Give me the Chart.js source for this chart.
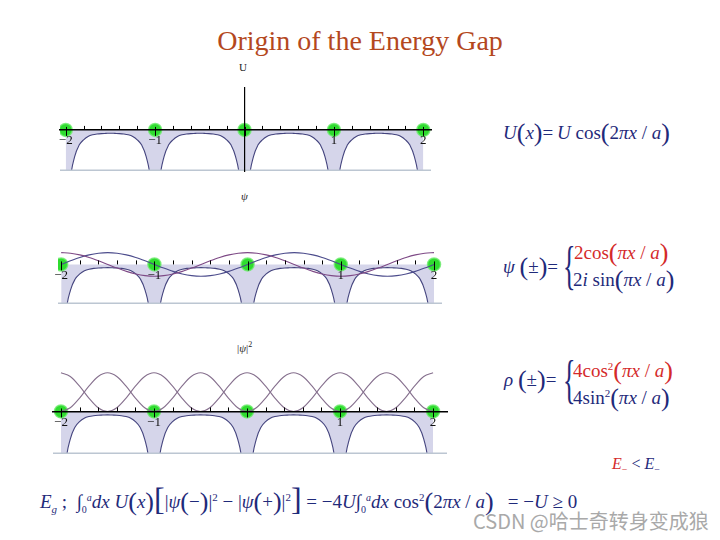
<!DOCTYPE html>
<html><head><meta charset="utf-8">
<script src="https://cdn.jsdelivr.net/npm/chart.js@4.4.1/dist/chart.umd.min.js"></script>
<style>
body{margin:0;width:720px;height:540px;background:#fff;position:relative;overflow:hidden;font-family:'Liberation Serif','Times New Roman',serif;}
.abs{position:absolute;white-space:nowrap;}
canvas{position:absolute;}
.f{color:#1f2a7a;font-size:19px;line-height:24px;}
.f i{font-style:italic;}
.bp{font-size:26px;vertical-align:-2px;font-style:normal;}
.red{color:#d42a2a;}
.brace{font-size:52px;line-height:52px;transform:scaleX(0.5);transform-origin:left top;color:#1f2a7a;font-weight:100;}
.lab{font-size:11px;color:#222;}
</style></head><body>
<div class="abs" style="left:0;width:720px;top:27px;text-align:center;font-size:28px;line-height:28px;color:#b4481e;">Origin of the Energy Gap</div>

<div class="abs lab" style="left:239px;top:61px;">U</div>
<div class="abs lab" style="left:241px;top:190px;font-style:italic;">ψ</div>
<div class="abs lab" style="left:237px;top:340px;">|<i>ψ</i>|<sup style="font-size:8px;">2</sup></div>

<canvas id="c1" width="387" height="99" style="left:52px;top:80px;"></canvas>
<canvas id="c2" width="400" height="74" style="left:50px;top:238px;"></canvas>
<canvas id="c3" width="410" height="104" style="left:45px;top:358px;"></canvas>

<div class="abs f" style="left:503px;top:121px;"><i>U</i><span class="bp">(</span><i>x</i><span class="bp">)</span>=&thinsp;<i>U</i> cos<span class="bp">(</span>2<i>πx</i> / <i>a</i><span class="bp">)</span></div>

<div class="abs f" style="left:503px;top:255px;"><i>ψ</i> <span class="bp">(</span>±<span class="bp">)</span>=</div>
<div class="abs brace" style="left:563px;top:240px;">{</div>
<div class="abs f red" style="left:574px;top:241px;">2cos<span class="bp">(</span><i>πx</i> / <i>a</i><span class="bp">)</span></div>
<div class="abs f" style="left:573px;top:268px;">2<i>i</i> sin<span class="bp">(</span><i>πx</i> / <i>a</i><span class="bp">)</span></div>

<div class="abs f" style="left:504px;top:368px;"><i>ρ</i> <span class="bp">(</span>±<span class="bp">)</span>=</div>
<div class="abs brace" style="left:563px;top:354px;">{</div>
<div class="abs f red" style="left:573px;top:354px;">4cos<sup style="font-size:11px;">2</sup><span class="bp">(</span><i>πx</i> / <i>a</i><span class="bp">)</span></div>
<div class="abs f" style="left:573px;top:381px;">4sin<sup style="font-size:11px;">2</sup><span class="bp">(</span><i>πx</i> / <i>a</i><span class="bp">)</span></div>

<div class="abs f" style="left:612px;top:452px;font-size:16px;"><i class="red">E</i><sub style="font-size:10px;" class="red">−</sub> &lt; <i>E</i><sub style="font-size:10px;">−</sub></div>

<div class="abs f" style="left:40px;top:485px;font-size:19px;"><i>E</i><sub style="font-size:11px;"><i>g</i></sub> ;&nbsp; ∫<sub style="font-size:10px;">0</sub><sup style="font-size:10px;"><i>a</i></sup><i>dx U</i><span class="bp">(</span><i>x</i><span class="bp">)</span><span class="bp" style="font-size:32px;">[</span>|<i>ψ</i><span class="bp">(</span>−<span class="bp">)</span>|<sup style="font-size:11px;">2</sup> − |<i>ψ</i><span class="bp">(</span>+<span class="bp">)</span>|<sup style="font-size:11px;">2</sup><span class="bp" style="font-size:32px;">]</span> = −4<i>U</i>∫<sub style="font-size:10px;">0</sub><sup style="font-size:10px;"><i>a</i></sup><i>dx</i> cos<sup style="font-size:11px;">2</sup><span class="bp">(</span>2<i>πx</i> / <i>a</i><span class="bp">)</span> &nbsp;&nbsp;= −<i>U</i> ≥ 0</div>

<div class="abs" style="left:473px;top:508px;font-family:'Noto Sans CJK SC','Noto Sans',sans-serif;font-size:20px;line-height:26px;color:#a9a9a9;">CSDN @哈士奇转身变成狼</div>

<script>
// ---- data ----
const xPot = [-2,-1.95,-1.9,-1.85,-1.8,-1.75,-1.7,-1.65,-1.6,-1.55,-1.5,-1.45,-1.4,-1.35,-1.3,-1.25,-1.2,-1.15,-1.1,-1.05,
  -1,-0.95,-0.9,-0.85,-0.8,-0.75,-0.7,-0.65,-0.6,-0.55,-0.5,-0.45,-0.4,-0.35,-0.3,-0.25,-0.2,-0.15,-0.1,-0.05,
  0,0.05,0.1,0.15,0.2,0.25,0.3,0.35,0.4,0.45,0.5,0.55,0.6,0.65,0.7,0.75,0.8,0.85,0.9,0.95,
  1,1.05,1.1,1.15,1.2,1.25,1.3,1.35,1.4,1.45,1.5,1.55,1.6,1.65,1.7,1.75,1.8,1.85,1.9,1.95,2];
const uPot = [-3,-1.25,-0.65,-0.37,-0.24,-0.16,-0.12,-0.1,-0.09,-0.085,-0.08,-0.085,-0.09,-0.1,-0.12,-0.16,-0.24,-0.37,-0.65,-1.25,
  -3,-1.25,-0.65,-0.37,-0.24,-0.16,-0.12,-0.1,-0.09,-0.085,-0.08,-0.085,-0.09,-0.1,-0.12,-0.16,-0.24,-0.37,-0.65,-1.25,
  -3,-1.25,-0.65,-0.37,-0.24,-0.16,-0.12,-0.1,-0.09,-0.085,-0.08,-0.085,-0.09,-0.1,-0.12,-0.16,-0.24,-0.37,-0.65,-1.25,
  -3,-1.25,-0.65,-0.37,-0.24,-0.16,-0.12,-0.1,-0.09,-0.085,-0.08,-0.085,-0.09,-0.1,-0.12,-0.16,-0.24,-0.37,-0.65,-1.25,-3];
const xWave = [-2,-1.9,-1.8,-1.7,-1.6,-1.5,-1.4,-1.3,-1.2,-1.1,-1,-0.9,-0.8,-0.7,-0.6,-0.5,-0.4,-0.3,-0.2,-0.1,
  0,0.1,0.2,0.3,0.4,0.5,0.6,0.7,0.8,0.9,1,1.1,1.2,1.3,1.4,1.5,1.6,1.7,1.8,1.9,2];
const psiPlus = [2,1.9,1.62,1.18,0.62,0,-0.62,-1.18,-1.62,-1.9,-2,-1.9,-1.62,-1.18,-0.62,0,0.62,1.18,1.62,1.9,
  2,1.9,1.62,1.18,0.62,0,-0.62,-1.18,-1.62,-1.9,-2,-1.9,-1.62,-1.18,-0.62,0,0.62,1.18,1.62,1.9,2];
const psiMinus = [0,0.62,1.18,1.62,1.9,2,1.9,1.62,1.18,0.62,0,-0.62,-1.18,-1.62,-1.9,-2,-1.9,-1.62,-1.18,-0.62,
  0,0.62,1.18,1.62,1.9,2,1.9,1.62,1.18,0.62,0,-0.62,-1.18,-1.62,-1.9,-2,-1.9,-1.62,-1.18,-0.62,0];
const rhoPlus = [4,3.62,2.62,1.38,0.38,0,0.38,1.38,2.62,3.62,4,3.62,2.62,1.38,0.38,0,0.38,1.38,2.62,3.62,
  4,3.62,2.62,1.38,0.38,0,0.38,1.38,2.62,3.62,4,3.62,2.62,1.38,0.38,0,0.38,1.38,2.62,3.62,4];
const rhoMinus = [0,0.38,1.38,2.62,3.62,4,3.62,2.62,1.38,0.38,0,0.38,1.38,2.62,3.62,4,3.62,2.62,1.38,0.38,
  0,0.38,1.38,2.62,3.62,4,3.62,2.62,1.38,0.38,0,0.38,1.38,2.62,3.62,4,3.62,2.62,1.38,0.38,0];
const ionX = [-2,-1,0,1,2];
const ionY = [0,0,0,0,0];

// ---- helpers ----
const pts = (xs, ys) => xs.map((x, i) => ({x, y: ys[i]}));
const tickLabel = v => { const r = Math.round(v); if (Math.abs(v - r) < 1e-6 && r !== 0) return r < 0 ? '\u2212' + (-r) : String(r); return ''; };

const axisDecor = {
  id: 'axisDecor',
  afterDatasetsDraw(chart) {
    const {ctx, chartArea: a, scales: {x, y}} = chart;
    ctx.save();
    ctx.strokeStyle = '#bcc6d2'; ctx.lineWidth = 1.5;
    ctx.beginPath(); ctx.moveTo(a.left, a.bottom - 0.75); ctx.lineTo(a.right, a.bottom - 0.75); ctx.stroke();
    const py = y.getPixelForValue(0);
    ctx.strokeStyle = '#000'; ctx.lineWidth = 1;
    x.ticks.forEach(t => {
      const v = t.value;
      if (Math.abs(v * 5 - Math.round(v * 5)) > 1e-6) return;
      const px = Math.round(x.getPixelForValue(v)) + 0.5;
      const major = Math.abs(v - Math.round(v)) < 1e-6;
      ctx.beginPath(); ctx.moveTo(px, py - (major ? 3 : 4)); ctx.lineTo(px, py + (major ? 6 : 0)); ctx.stroke();
    });
    ctx.restore();
  }
};

function potentialSet() {
  return {type: 'line', data: pts(xPot, uPot), yAxisID: 'y', borderColor: '#44447e', borderWidth: 1.1,
    pointRadius: 0, fill: 'origin', backgroundColor: '#d5d5ea', cubicInterpolationMode: 'monotone'};
}
function ionSet() {
  return {type: 'line', data: pts(ionX, ionY), yAxisID: 'y', showLine: false, pointRadius: 6.5,
    pointBackgroundColor: '#2fdc2f', pointBorderColor: 'rgba(110,235,110,0.8)', pointBorderWidth: 1.5};
}
function waveSet(ys, color) {
  return {type: 'line', data: pts(xWave, ys), yAxisID: 'y2', borderColor: color, borderWidth: 1.1,
    pointRadius: 0, fill: false, cubicInterpolationMode: 'monotone'};
}
const zeroPad = s => { s.paddingLeft = 0; s.paddingRight = 0; s.paddingTop = 0; s.paddingBottom = 0; };
function options(p) {
  return {
    responsive: false, animation: false, events: [],
    layout: {padding: 0},
    plugins: {legend: {display: false}, tooltip: {enabled: false}},
    scales: {
      x: {type: 'linear', min: p.xmin, max: p.xmax, position: {y: 0},
        grid: {display: false, drawTicks: false},
        border: {display: p.axisLine, color: '#000', width: 1.4, z: 1},
        ticks: {z: 2, stepSize: 0.2, includeBounds: false, autoSkip: false, maxRotation: 0, padding: 3,
          color: '#111', font: {family: 'Liberation Serif', size: 13}, callback: tickLabel},
        afterFit: zeroPad},
      y: {type: 'linear', min: -1, max: p.ymax, display: p.yAxis, position: {x: 0},
        grid: {display: false, drawTicks: false}, ticks: {display: false},
        border: {display: true, color: '#000', width: 1.2, z: 1},
        afterFit: zeroPad},
      y2: {type: 'linear', axis: 'y', min: p.wmin, max: p.wmax, display: false}
    }
  };
}

new Chart(document.getElementById('c1'), {
  type: 'line',
  data: {datasets: [ionSet(), potentialSet()]},
  options: options({xmin: -2.064, xmax: 2.086, ymax: 1.02, wmin: -1, wmax: 1, axisLine: true, yAxis: true}),
  plugins: [axisDecor]
});
new Chart(document.getElementById('c2'), {
  type: 'line',
  data: {datasets: [waveSet(psiPlus, '#7e4a86'), waveSet(psiMinus, '#4c4c8c'), ionSet(), potentialSet()]},
  options: options({xmin: -2.034, xmax: 2.0855, ymax: 0.465, wmin: -6.733, wmax: 3.133, axisLine: false, yAxis: false}),
  plugins: [axisDecor]
});
new Chart(document.getElementById('c3'), {
  type: 'line',
  data: {datasets: [waveSet(rhoPlus, '#86708e'), waveSet(rhoMinus, '#86708e'), ionSet(), potentialSet()]},
  options: options({xmin: -2.0857, xmax: 2.1498, ymax: 1.0676, wmin: -4.403, wmax: 4.70, axisLine: true, yAxis: false}),
  plugins: [axisDecor]
});
</script>
</body></html>
